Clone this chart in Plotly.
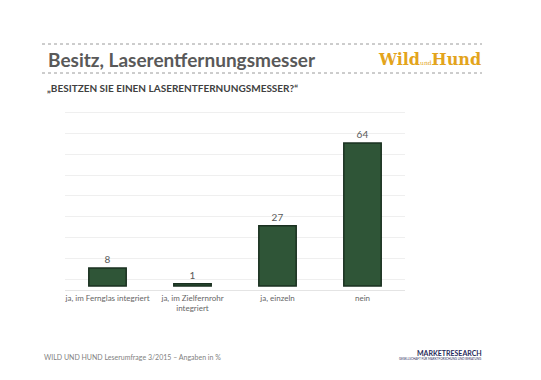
import plotly.graph_objects as go

categories = ["ja, im Fernglas integriert", "ja, im Zielfernrohr<br>integriert", "ja, einzeln", "nein"]
values = [8, 1, 27, 64]
value_labels = ["8", "1", "27", "64"]

W, H = 541, 380
OFF = 8  # browser default body margin
def px(x):
    return (x - OFF) / W
def py(y):
    return 1 - (y - OFF) / H

fig = go.Figure()
fig.add_trace(go.Bar(
    x=categories, y=values, text=value_labels, textposition="outside",
    textfont=dict(family="Lato, Open Sans, sans-serif", size=10, color="#595959"),
    marker=dict(color="#2f5537", line=dict(color="#1a3020", width=1.5)),
    width=0.44, cliponaxis=False, hoverinfo="skip",
))

fig.update_layout(
    width=W, height=H, margin=dict(l=0, r=0, t=0, b=0),
    paper_bgcolor="white", plot_bgcolor="white", showlegend=False,
    xaxis=dict(domain=[px(65), px(405)], showline=True, linecolor="#e4e4e4", linewidth=1,
               ticks="", showgrid=False, tickangle=0,
               tickfont=dict(family="Lato, Open Sans, sans-serif", size=8, color="#666666")),
    yaxis=dict(domain=[py(290), py(111.7)], range=[-1.8, 78], showticklabels=False,
               tick0=3.1, dtick=9.3, showgrid=True, gridcolor="#efefef", gridwidth=1,
               zeroline=False, ticks=""),
)

for y in (44, 73):
    fig.add_shape(type="line", xref="paper", yref="paper", x0=px(42), x1=px(482),
                  y0=py(y), y1=py(y), line=dict(color="#9a9a9a", width=1, dash="dot"))

fig.add_annotation(xref="paper", yref="paper", x=px(46), y=py(60), xanchor="left", yanchor="middle",
                   text="<b>Besitz, Laserentfernungsmesser</b>", showarrow=False,
                   font=dict(family="Lato, sans-serif", size=19, color="#595959"))
fig.add_annotation(xref="paper", yref="paper", x=px(483), y=py(60), xanchor="right", yanchor="middle",
                   text="<b>Wild</b><span style='font-size:6px'>und</span><b>Hund</b>", showarrow=False,
                   font=dict(family="DejaVu Serif, serif", size=16, color="#e3a41c"))
fig.add_annotation(xref="paper", yref="paper", x=px(45), y=py(88), xanchor="left", yanchor="middle",
                   text="<b>„BESITZEN SIE EINEN LASERENTFERNUNGSMESSER?“</b>", showarrow=False,
                   font=dict(family="Lato, sans-serif", size=10, color="#404040"))
fig.add_annotation(xref="paper", yref="paper", x=px(42), y=py(357), xanchor="left", yanchor="middle",
                   text="WILD UND HUND Leserumfrage 3/2015 – Angaben in %", showarrow=False,
                   font=dict(family="Lato, sans-serif", size=7, color="#7f7f7f"))
fig.add_annotation(xref="paper", yref="paper", x=px(484), y=py(353), xanchor="right", yanchor="middle",
                   text="<b>MARKETRESEARCH</b>", showarrow=False,
                   font=dict(family="Lato, sans-serif", size=7, color="#1f2a5a"))
fig.add_annotation(xref="paper", yref="paper", x=px(484), y=py(358), xanchor="right", yanchor="middle",
                   text="GESELLSCHAFT FÜR MARKTFORSCHUNG UND BERATUNG", showarrow=False,
                   font=dict(family="Lato, sans-serif", size=3, color="#1f2a5a"))

fig.write_html("out.html")
